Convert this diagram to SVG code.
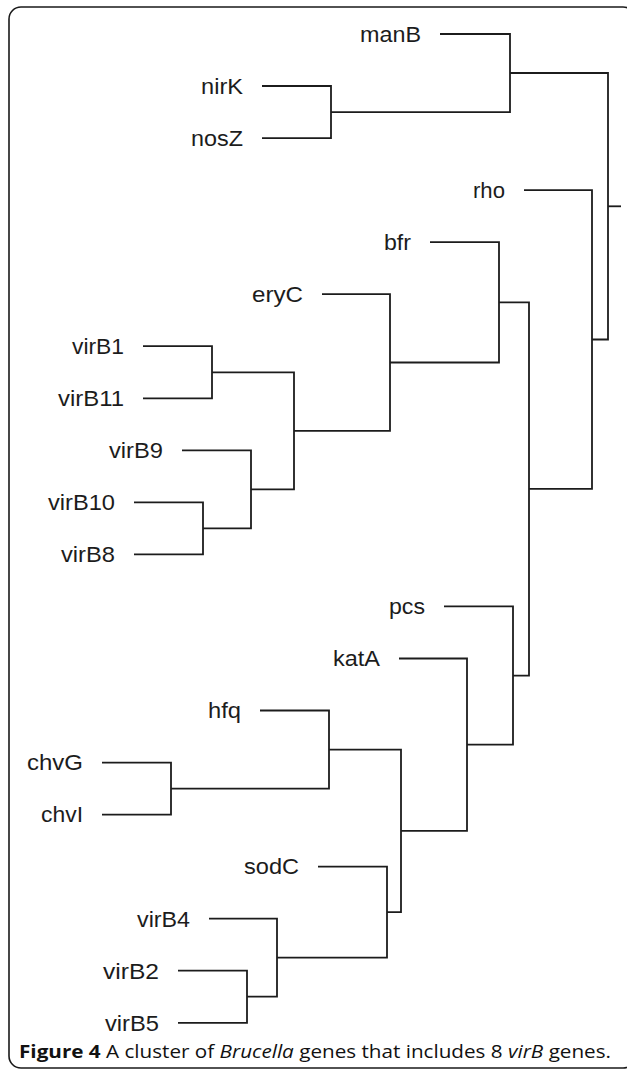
<svg xmlns="http://www.w3.org/2000/svg" width="627" height="1072" viewBox="0 0 627 1072">
<style>
.lbl{font-family:"Liberation Sans",Arial,sans-serif;font-size:22.5px;fill:#1c1c1c;text-anchor:end}
.cap{font-family:"Open Sans","Liberation Sans",sans-serif;font-size:17.5px;fill:#111}
.br{fill:none;stroke:#1c1c1c;stroke-width:1.8;stroke-linejoin:miter;stroke-linecap:butt}
</style>
<rect x="0" y="0" width="627" height="1072" fill="#fff"/>
<rect id="frame" x="9" y="7" width="626" height="1061" rx="12" ry="12" fill="#fff" stroke="#1a1a1a" stroke-width="1.6"/>
<g id="connectors" class="br">
<path d="M262 86 H331 V138.1 H262"/>
<path d="M440 34 H510 V112.1 H331"/>
<path d="M143 346.2 H212 V398.3 H143"/>
<path d="M134 502.4 H203 V554.4 H134"/>
<path d="M182 450.3 H251 V528.4 H203"/>
<path d="M212 372.3 H294 V489.4 H251"/>
<path d="M322 294.2 H390 V430.8 H294"/>
<path d="M430 242.2 H499 V362.5 H390"/>
<path d="M102 762.6 H171 V814.6 H102"/>
<path d="M260 710.5 H329 V788.6 H171"/>
<path d="M178 970.7 H247 V1022.8 H178"/>
<path d="M209 918.7 H277 V996.7 H247"/>
<path d="M318 866.6 H387 V957.7 H277"/>
<path d="M329 749.6 H401 V912.2 H387"/>
<path d="M399 658.5 H467 V830.9 H401"/>
<path d="M444 606.4 H513 V744.7 H467"/>
<path d="M499 302.3 H529 V675.6 H513"/>
<path d="M524 190.1 H592 V488.9 H529"/>
<path d="M510 73 H608 V339.5 H592"/>
<path d="M608 206.3 H621"/>
</g>
<g id="manB"><text class="lbl" x="421" y="41.8" textLength="61" lengthAdjust="spacingAndGlyphs">manB</text></g>
<g id="nirK"><text class="lbl" x="243" y="93.8" textLength="42" lengthAdjust="spacingAndGlyphs">nirK</text></g>
<g id="nosZ"><text class="lbl" x="243" y="145.9" textLength="52" lengthAdjust="spacingAndGlyphs">nosZ</text></g>
<g id="rho"><text class="lbl" x="505" y="197.9" textLength="32" lengthAdjust="spacingAndGlyphs">rho</text></g>
<g id="bfr"><text class="lbl" x="411" y="250" textLength="27" lengthAdjust="spacingAndGlyphs">bfr</text></g>
<g id="eryC"><text class="lbl" x="303" y="302" textLength="51" lengthAdjust="spacingAndGlyphs">eryC</text></g>
<g id="virB1"><text class="lbl" x="124" y="354" textLength="52" lengthAdjust="spacingAndGlyphs">virB1</text></g>
<g id="virB11"><text class="lbl" x="124" y="406.1" textLength="66" lengthAdjust="spacingAndGlyphs">virB11</text></g>
<g id="virB9"><text class="lbl" x="163" y="458.1" textLength="54" lengthAdjust="spacingAndGlyphs">virB9</text></g>
<g id="virB10"><text class="lbl" x="115" y="510.2" textLength="67" lengthAdjust="spacingAndGlyphs">virB10</text></g>
<g id="virB8"><text class="lbl" x="115" y="562.2" textLength="54" lengthAdjust="spacingAndGlyphs">virB8</text></g>
<g id="pcs"><text class="lbl" x="425" y="614.2" textLength="36" lengthAdjust="spacingAndGlyphs">pcs</text></g>
<g id="katA"><text class="lbl" x="380" y="666.3" textLength="47" lengthAdjust="spacingAndGlyphs">katA</text></g>
<g id="hfq"><text class="lbl" x="241" y="718.3" textLength="33" lengthAdjust="spacingAndGlyphs">hfq</text></g>
<g id="chvG"><text class="lbl" x="83" y="770.4" textLength="56" lengthAdjust="spacingAndGlyphs">chvG</text></g>
<g id="chvI"><text class="lbl" x="83" y="822.4" textLength="42" lengthAdjust="spacingAndGlyphs">chvI</text></g>
<g id="sodC"><text class="lbl" x="299" y="874.4" textLength="55" lengthAdjust="spacingAndGlyphs">sodC</text></g>
<g id="virB4"><text class="lbl" x="190" y="926.5" textLength="53" lengthAdjust="spacingAndGlyphs">virB4</text></g>
<g id="virB2"><text class="lbl" x="159" y="978.5" textLength="56" lengthAdjust="spacingAndGlyphs">virB2</text></g>
<g id="virB5"><text class="lbl" x="159" y="1030.6" textLength="54" lengthAdjust="spacingAndGlyphs">virB5</text></g>
<g id="caption"><text class="cap" x="19" y="1057.5" textLength="592" lengthAdjust="spacingAndGlyphs"><tspan font-weight="bold">Figure 4</tspan> A cluster of <tspan font-style="italic">Brucella</tspan> genes that includes 8 <tspan font-style="italic">virB</tspan> genes.</text></g>
</svg>
